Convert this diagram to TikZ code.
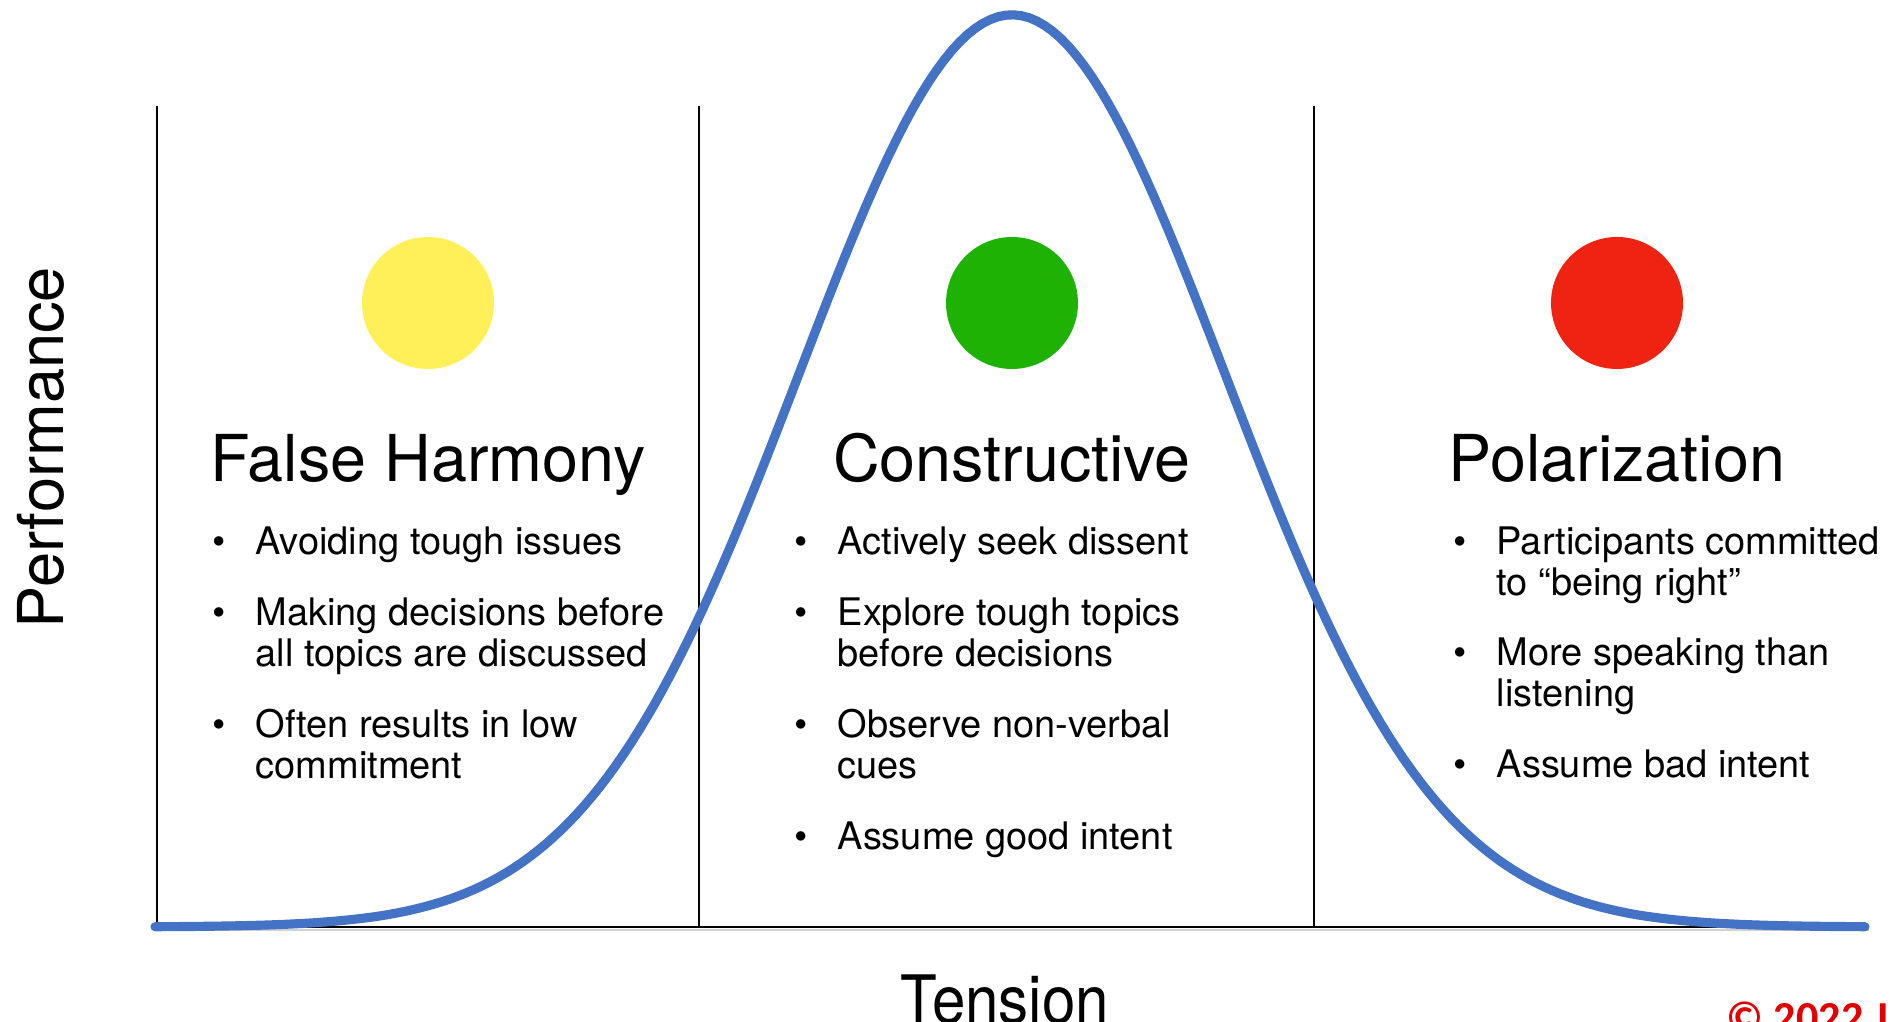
\documentclass[tikz,border=0pt]{standalone}
\usepackage{fontspec}
\setmainfont{TeX Gyre Heros}
\newfontfamily\notefont{Carlito}
\usepackage{xcolor}
\definecolor{tnyellow}{RGB}{255,239,88}
\definecolor{tngreen}{RGB}{30,178,5}
\definecolor{tnred}{RGB}{238,35,18}
\definecolor{tnblue}{RGB}{68,114,196}
\definecolor{tnnote}{RGB}{225,0,0}
\newcommand{\bul}{\llap{\textbullet\hspace{0.30cm}}}
\tikzset{
    rule/.style={draw=black,line width=0.7pt},
    bell/.style={draw=tnblue,line width=2.6pt,line join=round,line cap=round},
    dot/.style={
        circle,fill=#1,minimum size=1.32cm,inner sep=0pt
    },
    dot/.default=tnyellow,
    zonetitle/.style={
        anchor=base,inner sep=0pt,font=\fontsize{18.4pt}{22pt}\selectfont
    },
    % multi-line items sit on their last baseline
    item/.style={
        anchor=base west,align=left,inner sep=0pt,
        font=\fontsize{10.8pt}{11.67pt}\selectfont
    },
    axislabel/.style={
        anchor=base,inner sep=0pt,font=\fontsize{18pt}{21pt}\selectfont
    }
}
\begin{document}
\begin{tikzpicture}[x=1cm,y=1cm]
\useasboundingbox (0,0) rectangle (18.93,10.22);

% frame: axis and the two zone separators
\draw[gray!35,line width=0.8pt] (1.57,0.92) -- (18.69,0.92);
\draw[rule] (1.57,9.16) -- (1.57,0.95) -- (18.69,0.95);
\draw[rule] (6.99,9.16) -- (6.99,0.95);
\draw[rule] (13.14,9.16) -- (13.14,0.95);

% performance curve
\draw[bell] plot[domain=1.55:18.65,samples=220]
    (\x,{0.95+9.12*exp(-((\x-10.12)^2)/9.07)});

% axis labels
\node[axislabel,rotate=90] (perf) at (0.63,5.745) {Performance};
\node[axislabel,font=\fontsize{19pt}{22pt}\selectfont,xscale=0.9]
    (tens) at (10.05,-0.02) {Tension};

% left zone
\node[dot=tnyellow] (fhdot) at (4.28,7.19) {};
\node[zonetitle] (fh) at (4.28,5.40) {False Harmony};
\node[item] (fh1) at (2.55,4.67) {\bul Avoiding tough issues};
\node[item] (fh2) at (2.55,3.55) {\bul Making decisions before\\all topics are discussed};
\node[item] (fh3) at (2.55,2.43) {\bul Often results in low\\commitment};

% middle zone
\node[dot=tngreen] (cndot) at (10.12,7.19) {};
\node[zonetitle] (cn) at (10.12,5.40) {Constructive};
\node[item] (cn1) at (8.37,4.67) {\bul Actively seek dissent};
\node[item] (cn2) at (8.37,3.55) {\bul Explore tough topics\\before decisions};
\node[item] (cn3) at (8.37,2.43) {\bul Observe non-verbal\\cues};
\node[item] (cn4) at (8.37,1.72) {\bul Assume good intent};

% right zone
\node[dot=tnred] (pzdot) at (16.17,7.19) {};
\node[zonetitle] (pz) at (16.17,5.40) {Polarization};
\node[item] (pz1) at (14.96,4.26) {\bul Participants committed\\to “being right”};
\node[item] (pz2) at (14.96,3.15) {\bul More speaking than\\listening};
\node[item] (pz3) at (14.96,2.44) {\bul Assume bad intent};

% footer note, runs off the page edge
\node[anchor=base west,inner sep=0pt,text=tnnote,
      font=\notefont\bfseries\fontsize{12.6pt}{15pt}\selectfont]
    (note) at (17.26,-0.11) {© 2022 J};

\end{tikzpicture}
\end{document}
